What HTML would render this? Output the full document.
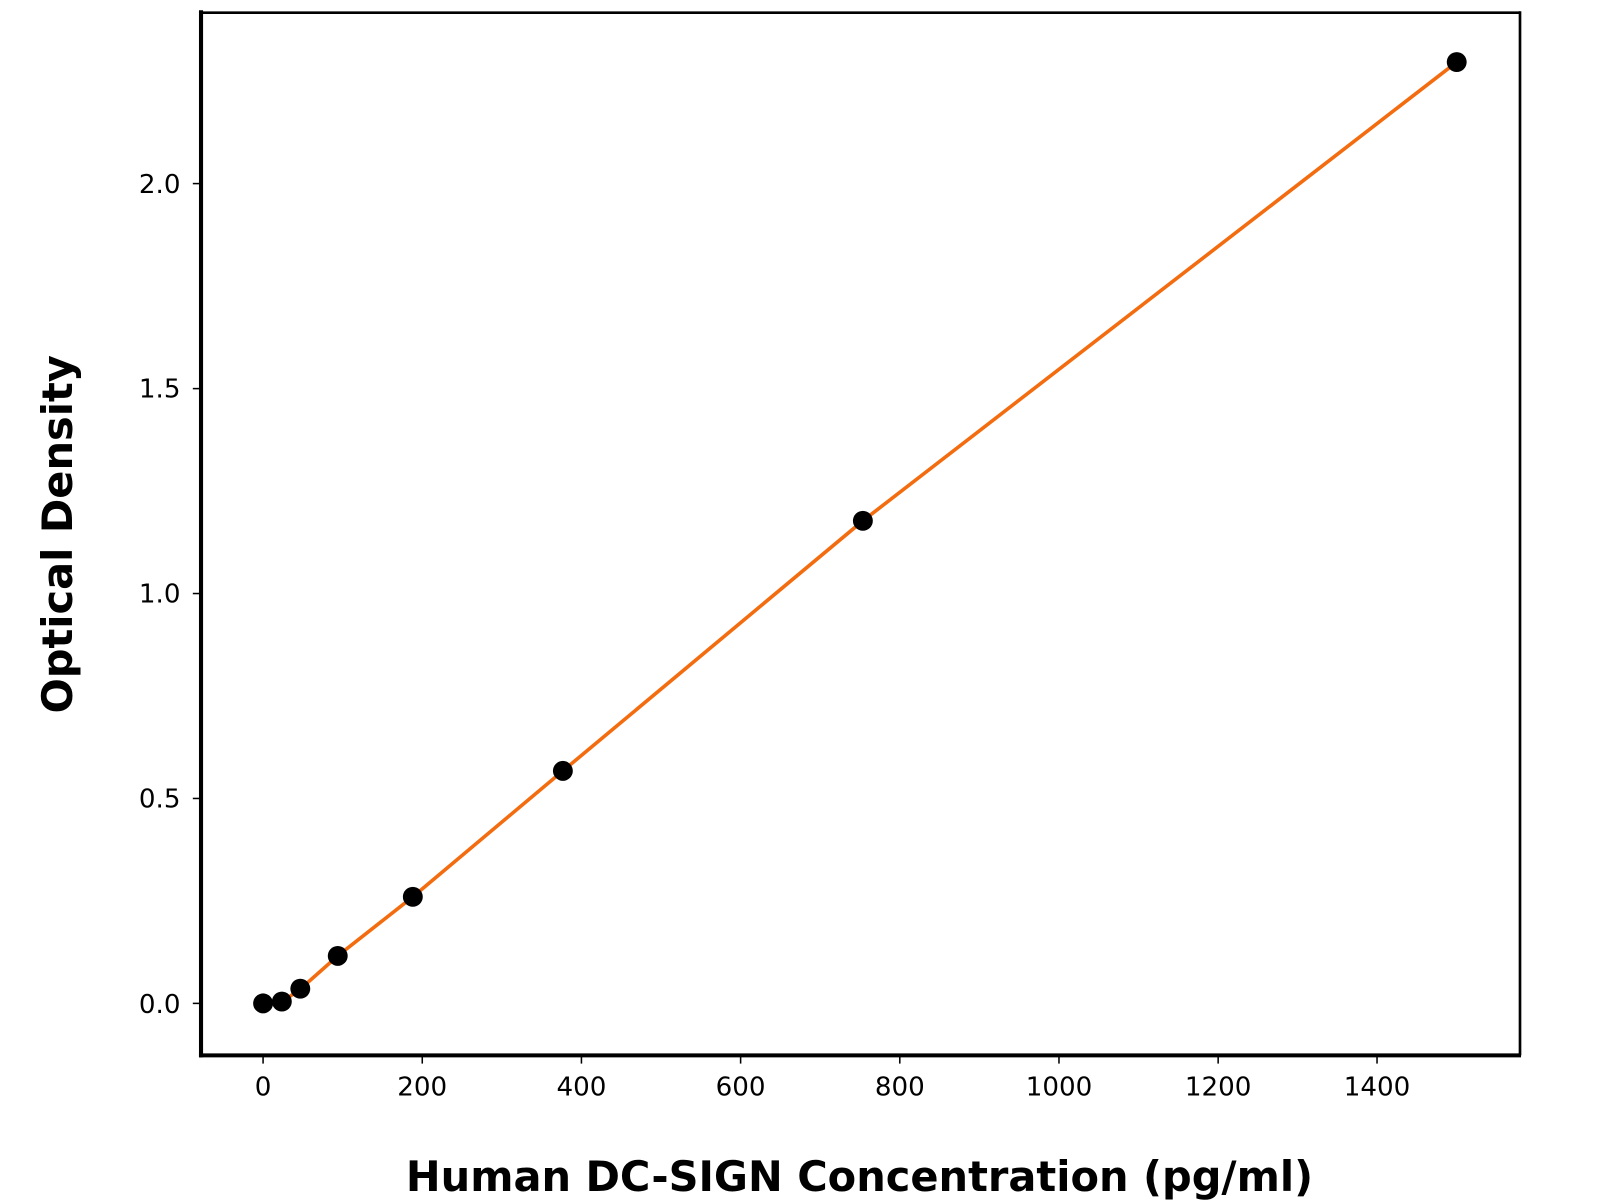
<!DOCTYPE html>
<html><head><meta charset="utf-8"><style>html,body{margin:0;padding:0;background:#fff}svg{display:block}</style></head>
<body>
<svg width="1600" height="1200" viewBox="0 0 1560 1170" xmlns="http://www.w3.org/2000/svg" font-family="'DejaVu Sans','Liberation Sans',sans-serif">
<rect width="1560" height="1170" fill="#fff"/>
<line x1="196" y1="12.4" x2="1482" y2="12.4" stroke="#000" stroke-width="2.6"/>
<line x1="1482" y1="11" x2="1482" y2="1029" stroke="#000" stroke-width="2.6"/>
<line x1="196" y1="10" x2="196" y2="1031" stroke="#000" stroke-width="4"/>
<line x1="194" y1="1029" x2="1483" y2="1029" stroke="#000" stroke-width="4"/>
<g stroke="#000" stroke-width="1.5">
<line x1="256.5" y1="1029" x2="256.5" y2="1037"/><line x1="411.7" y1="1029" x2="411.7" y2="1037"/>
<line x1="566.9" y1="1029" x2="566.9" y2="1037"/><line x1="722.1" y1="1029" x2="722.1" y2="1037"/>
<line x1="877.3" y1="1029" x2="877.3" y2="1037"/><line x1="1032.5" y1="1029" x2="1032.5" y2="1037"/>
<line x1="1187.7" y1="1029" x2="1187.7" y2="1037"/><line x1="1342.6" y1="1029" x2="1342.6" y2="1037"/>
<line x1="188" y1="978.3" x2="196" y2="978.3"/><line x1="188" y1="778.5" x2="196" y2="778.5"/>
<line x1="188" y1="578.7" x2="196" y2="578.7"/><line x1="188" y1="378.9" x2="196" y2="378.9"/>
<line x1="188" y1="179" x2="196" y2="179"/>
</g>
<g font-size="25.5" text-anchor="middle" fill="#000">
<text x="256.5" y="1068">0</text><text x="411.7" y="1068">200</text><text x="566.9" y="1068">400</text>
<text x="722.1" y="1068">600</text><text x="877.3" y="1068">800</text><text x="1032.5" y="1068">1000</text>
<text x="1187.7" y="1068">1200</text><text x="1342.6" y="1068">1400</text>
</g>
<g font-size="25.5" text-anchor="end" fill="#000">
<text x="176" y="987.5">0.0</text><text x="176" y="787.5">0.5</text><text x="176" y="587.5">1.0</text>
<text x="176" y="387.5">1.5</text><text x="176" y="188">2.0</text>
</g>
<text x="838" y="1161" font-size="40.5" font-weight="bold" text-anchor="middle">Human DC-SIGN Concentration (pg/ml)</text>
<text transform="translate(70,521) rotate(-90)" font-size="40.5" font-weight="bold" text-anchor="middle">Optical Density</text>
<polyline fill="none" stroke="#f36c0f" stroke-width="3.5" points="274.8,977 292.8,964.4 329.3,932 402.5,874.4 548.8,751.6 841.3,507.8 1420.3,60.5"/>
<g fill="#000">
<circle cx="256.5" cy="978.3" r="9.7"/><circle cx="274.8" cy="976.5" r="9.7"/><circle cx="292.8" cy="964" r="9.7"/>
<circle cx="329.3" cy="932" r="9.7"/><circle cx="402.5" cy="874.4" r="9.7"/><circle cx="548.8" cy="751.6" r="9.7"/>
<circle cx="841.3" cy="507.8" r="9.7"/><circle cx="1420.3" cy="60.5" r="9.7"/>
</g>
</svg>
</body></html>
